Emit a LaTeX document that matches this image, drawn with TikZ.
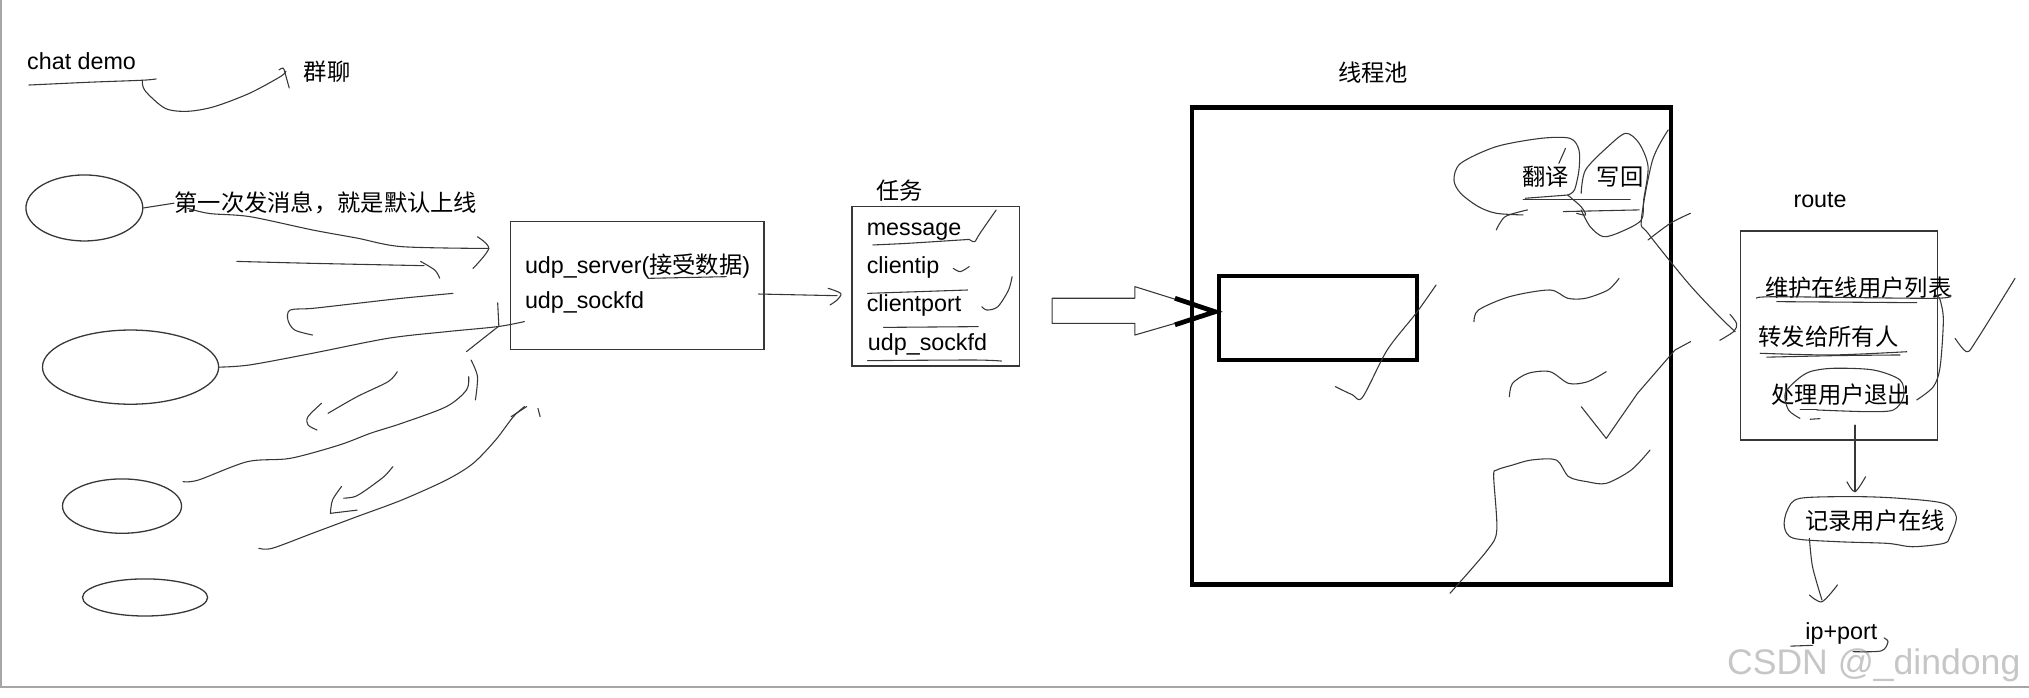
\documentclass[tikz,border=0pt]{standalone}
\usepackage{fontspec}
\setmainfont{Liberation Sans}
\newfontfamily\cjk{Noto Sans CJK SC}
\usetikzlibrary{shapes.geometric}
\definecolor{pencil}{RGB}{55,55,55}
\newcommand{\sketchsize}{\fontsize{10.8}{13}\selectfont}

\begin{document}
\begin{tikzpicture}[x=0.6pt, y=-0.6pt,
  latin/.style={inner sep=0pt, font=\sketchsize},
  cnlabel/.style={inner sep=0pt, font=\sketchsize\cjk},
  box/.style={draw=pencil, line width=0.6pt, inner sep=0pt},
  heavybox/.style={draw=black, line width=2pt, inner sep=0pt},
  oval/.style={ellipse, draw=pencil, line width=0.6pt, inner sep=0pt},
  pen/.style={draw=pencil, line width=0.5pt, line cap=round, line join=round}]
  \useasboundingbox (0,0) rectangle (1568,539);
  \draw[gray!70, line width=1pt] (1,0) -- (1,531) -- (1568,531);

  % clients
  \node[latin, anchor=base west] (chat) at (20.7,54) {chat demo};
  \node[cnlabel] (group) at (252.7,55.3) {群聊};
  \node[oval, minimum width=54.2pt, minimum height=30.6pt] (c1) at (65.2,160.7) {};
  \node[oval, minimum width=81.7pt, minimum height=34.4pt] (c2) at (100.9,283.7) {};
  \node[oval, minimum width=55.2pt, minimum height=25.2pt] (c3) at (94.3,391.1) {};
  \node[oval, minimum width=58pt, minimum height=17.2pt] (c4) at (112.1,461.7) {};
  \node[cnlabel, anchor=west] (first) at (134.5,157) {第一次发消息，就是默认上线};

  % server and task
  \node[box, minimum width=117.5pt, minimum height=59.2pt] (server) at (492.4,220.7) {};
  \node[latin, anchor=base west] (srvname) at (405.4,211) {udp\_server({\cjk 接受数据})};
  \node[latin, anchor=base west] (srvfd) at (405.4,238.5) {udp\_sockfd};
  \node[cnlabel] (tasktitle) at (695,147) {任务};
  \node[box, minimum width=77.5pt, minimum height=73.9pt] (task) at (723.1,221.3) {};
  \node[latin, anchor=base west] (msg) at (669.5,182) {message};
  \node[latin, anchor=base west] (cip) at (669.5,211.5) {clientip};
  \node[latin, anchor=base west] (cport) at (669.5,241) {clientport};
  \node[latin, anchor=base west] (tfd) at (670.4,270.5) {udp\_sockfd};

  % thread pool
  \node[cnlabel] (pooltitle) at (1061,56) {线程池};
  \node[heavybox, minimum width=222.1pt, minimum height=221.2pt] (pool) at (1106.3,267.3) {};
  \node[heavybox, minimum width=91.9pt, minimum height=39.1pt] (worker) at (1018.5,245.6) {};
  \node[cnlabel] (translate) at (1194.5,136.5) {翻译};
  \node[cnlabel] (writeback) at (1252,136.5) {写回};

  % route
  \node[latin, anchor=base] (routetitle) at (1406.5,160) {route};
  \node[box, minimum width=91.2pt, minimum height=96.9pt] (route) at (1421,259.3) {};
  \node[cnlabel] (keep) at (1436,222) {维护在线用户列表};
  \node[cnlabel] (fwd) at (1413,260) {转发给所有人};
  \node[cnlabel] (quit) at (1423,305) {处理用户退出};
  \node[cnlabel] (record) at (1449,402.5) {记录用户在线};
  \node[latin, anchor=base] (ipport) at (1423,494) {ip+port};
  \node[inner sep=0pt, anchor=base, text=gray!45, font=\fontsize{16.5}{18}\selectfont] (mark) at (1448,521) {CSDN @\_dindong};

  % strokes on the left
  \draw[pen] plot[smooth] coordinates {(22.4,65.7) (70,63.5) (110,62) (120.7,61)};
  \draw[pen] plot[smooth] coordinates {(110,62) (112,70) (127.6,83.7) (145,86) (165.6,82.4) (193,72) (217,59) (221,55)};
  \draw[pen] plot[smooth] coordinates {(215.6,54) (219,52.8) (221,59) (223.5,68)};
  \draw[pen] (c1.east) -- (first.west);
  \draw[pen] plot[smooth] coordinates {(145,161) (162,165) (193,167.4) (241.5,177.7) (276,184) (310.5,190.6) (377.7,192)};
  \draw[pen] plot[smooth] coordinates {(369,183) (377.7,192) (365.6,207.4)};
  \draw[pen] plot[smooth] coordinates {(183,202) (241.5,203.5) (327.7,205.3)};
  \draw[pen] plot[smooth] coordinates {(325,202) (336,208.7) (339.8,215)};
  \draw[pen] plot[smooth] coordinates {(350,226.7) (310.5,230.5) (276,234.4) (241.5,238.3) (224.2,239.6) (222.5,247.3) (227.7,255) (241.5,258.9)};
  \draw[pen] plot[smooth] coordinates {(c2.east) (193,282) (241.5,273) (300,261.4) (345,256.3) (384.6,252.4) (405.3,248.5)};
  \draw[pen] (384.6,234) -- (385.5,252) -- (360.5,271.7);
  \draw[pen] plot[smooth] coordinates {(364,278.2) (369,291) (367.4,309)};
  \draw[pen] plot[smooth] coordinates {(141.4,372.2) (153.5,370.9) (191.4,356.7) (224.2,354.2) (262.2,343.9) (286.3,334.8) (310.5,327.1) (345,314.2) (360.5,301.4) (362.2,291.1)};
  \draw[pen] plot[smooth] coordinates {(307,287.2) (300,294.9) (276,306.5) (253.5,319.4)};
  \draw[pen] plot[smooth] coordinates {(248.4,311.7) (238,322) (238,328.4) (245,332.3)};
  \draw[pen] plot[smooth] coordinates {(303.6,360.6) (296.7,368.3) (282.9,378.6) (274.2,383.8) (265.6,385)};
  \draw[pen] plot[smooth] coordinates {(263.9,376) (257,386.3) (255.3,396.7)} -- (276,394.2);
  \draw[pen] plot[smooth] coordinates {(200,423.7) (210.4,423.7) (241.5,412.1) (276,399.2) (310.5,386.4) (345,370.9) (365.6,358.1) (383,340) (396.7,322) (405.3,314.2)};
  \draw[pen] (395,322) -- (407,314.2);
  \draw[pen] (415.7,315.5) -- (417.4,322);

  % server to task
  \draw[pen] (500.6,215.1) -- (561.3,213.8);
  \draw[pen] (586.2,227.2) -- (646.9,228.5);
  \draw[pen] plot[smooth] coordinates {(640,222.8) (649.7,226.7) (646.9,231.8) (641.4,235.7)};
  \draw[pen] plot[smooth] coordinates {(674.5,189.3) (702,188) (749,185)};
  \draw[pen] plot[smooth] coordinates {(749,185) (753.2,186.7) (757.3,180.3) (769.8,162.3)};
  \draw[pen] plot[smooth] coordinates {(736.6,207.3) (742.1,209.9) (749,206)};
  \draw[pen] (670.4,226.7) -- (747.7,224.1);
  \draw[pen] plot[smooth] coordinates {(758.7,237) (762.8,239.6) (771.1,237) (779.4,224.1) (782.1,213.8)};
  \draw[pen] (682.8,253) -- (756,252.4);
  \draw[pen] plot[smooth] coordinates {(670.4,278.7) (751.8,278.2) (773.9,279)};

  % big arrow into the pool
  \draw[pen] (813,230.5) -- (877,230.5) -- (877,221.5) -- (939,240.9) -- (877,258.9) -- (877,249.9) -- (813,249.9) -- cycle;
  \draw[line width=2.2pt] (908,230.5) -- (939,240.9) -- (908,251);

  % strokes in the pool
  \draw[pen] plot[smooth] coordinates {(1177,166.1) (1156.3,164.8) (1142.5,159.7) (1128.8,149.4) (1123.6,139.1) (1128.8,126.2) (1156.3,113.3) (1190.8,106.9) (1213.3,106.9) (1220.2,115.9) (1220.2,131.3) (1216.7,146.8) (1211.5,150.7)};
  \draw[pen] (1209.8,114.6) -- (1204.7,126.2);
  \draw[pen] plot[smooth] coordinates {(1211.5,150.7) (1221.8,159.7) (1225.3,166.1) (1218.4,164.8)};
  \draw[pen] (1178.8,153.2) -- (1211.5,150.7);
  \draw[pen] (1177,154.5) -- (1259.8,154.5);
  \draw[pen] (1208.1,163.5) -- (1266.7,162.2);
  \draw[pen] plot[smooth] coordinates {(1156.3,177.7) (1163.2,167.4) (1180.5,162.2)};
  \draw[pen] plot[smooth] coordinates {(1221.9,149.4) (1225.3,131.3) (1242.6,113.3) (1256.4,103) (1266.7,110.7) (1273.6,128.8) (1270.2,154.5) (1268.4,170) (1252.9,179) (1239.1,182.9) (1228.8,175.1) (1221.9,162.2)};
  \draw[pen] plot[smooth] coordinates {(1289.2,100.4) (1277.1,123.6) (1268.4,170) (1273.6,180.3) (1304.7,218.9) (1328.8,244.7) (1340.9,256.3)};
  \draw[pen] plot[smooth] coordinates {(1337,243) (1342,250) (1340,256) (1329,263)};
  \draw[pen] plot[smooth] coordinates {(1306.4,164.8) (1290.9,172.5) (1273.6,185.4)};
  \draw[pen] plot[smooth] coordinates {(1139.1,248.5) (1142.6,239.5) (1166.7,229.2) (1197.7,224.1) (1211.5,230.5) (1225.3,230.5) (1242.6,224.1) (1251.2,215.1)};
  \draw[pen] plot[smooth] coordinates {(1109.8,220.2) (1094.3,242.1) (1072,270.5) (1052.9,307) (1045,305) (1032,298.8)};
  \draw[pen] plot[smooth] coordinates {(1166.4,306.6) (1168.8,296.3) (1180.9,288.5) (1197.8,287.2) (1212.3,296.3) (1226.8,295) (1241.3,287.2)};
  \draw[pen] (1222,314.3) -- (1241.3,338.8) -- (1265.4,304) -- (1294.4,270.5) -- (1306.4,264);
  \draw[pen] plot[smooth] coordinates {(1275.1,347.8) (1260.6,363.2) (1241.3,373.5) (1226.8,372.3) (1212.3,368.4) (1202.6,355.5) (1183.3,355.5) (1168.8,359.4) (1156.7,363.2) (1154.3,368.4) (1156.7,409.6) (1149.5,425) (1120.5,458.5)};

  % strokes at the route
  \draw[pen] plot[smooth] coordinates {(1357.6,230.5) (1373,229.3) (1494.1,230.5) (1507,228)};
  \draw[pen] (1373,233.1) -- (1481.2,233.9);
  \draw[pen] plot[smooth] coordinates {(1360.2,273) (1416,274.3) (1473.5,271.8)};
  \draw[pen] plot[smooth] coordinates {(1365.3,276) (1420,274.8) (1468.4,274.3)};
  \draw[pen] plot[smooth] coordinates {(1391,323.3) (1382.1,316.8) (1379.5,304) (1388.5,293.7) (1398.8,287.2) (1416.8,284.6) (1447.7,285.9) (1468.4,293.7) (1471,306.5) (1463.2,316.8) (1442.6,318.1) (1404,316.8)};
  \draw[pen] (1391.1,316.8) -- (1404,316.8);
  \draw[pen] (1398.8,324) -- (1406.5,323.5);
  \draw[pen] plot[smooth] coordinates {(1481.2,309.1) (1494.1,298.8) (1499.3,283.4) (1501.8,247.3) (1499.3,231.8) (1496.7,228)};
  \draw[pen] plot[smooth] coordinates {(1510.9,261.5) (1519.9,271.8) (1527.6,262.7) (1557.2,215.1)};
  \draw[pen] (1433.5,328.5) -- (1433.5,380);
  \draw[pen] plot[smooth] coordinates {(1427.3,372.3) (1433.5,380) (1441.7,368.4)};
  \draw[pen] plot[smooth cycle] coordinates {(1381.3,394.1) (1391,385.1) (1434.5,383.8) (1468.3,385.1) (1502.1,389) (1511.8,399.3) (1506.9,414.8) (1502.1,419.9) (1478,422.5) (1458.6,419.9) (1420,418.6) (1386.2,416) (1378.9,407)};
  \draw[pen] plot[smooth] coordinates {(1398.3,416) (1400.7,438) (1408,463.7)};
  \draw[pen] plot[smooth] coordinates {(1398.3,459.8) (1408,465) (1420,452)};
  \draw[pen] (1383.8,499.3) -- (1400.7,498.7);
  \draw[pen] plot[smooth] coordinates {(1432,503.6) (1453.8,503) (1459,496) (1456,493)};
\end{tikzpicture}
\end{document}
